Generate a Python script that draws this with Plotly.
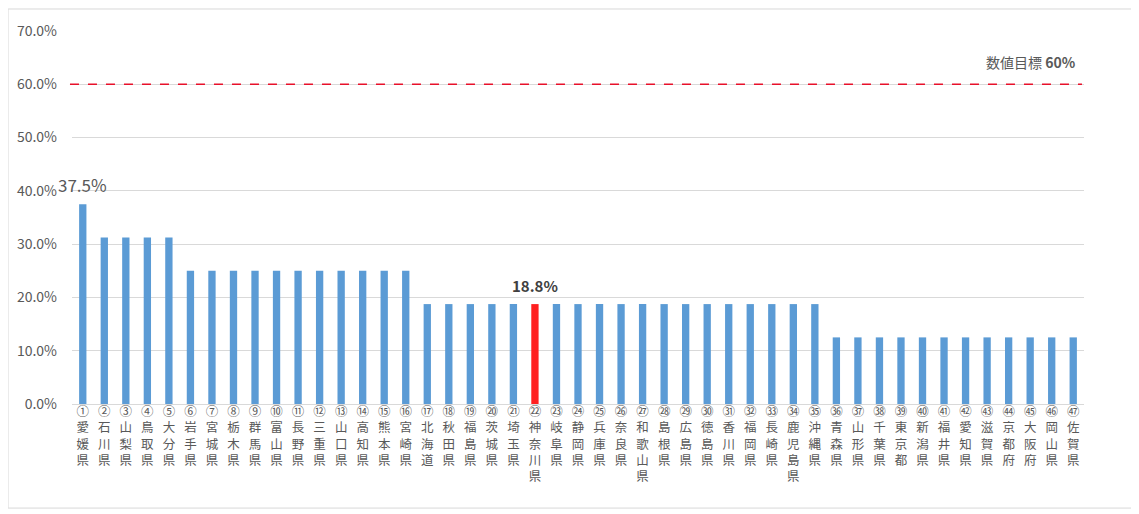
import plotly.graph_objects as go

numbers = ["①","②","③","④","⑤","⑥","⑦","⑧","⑨","⑩","⑪","⑫","⑬","⑭","⑮","⑯","⑰","⑱","⑲","⑳",
           "㉑","㉒","㉓","㉔","㉕","㉖","㉗","㉘","㉙","㉚","㉛","㉜","㉝","㉞","㉟",
           "㊱","㊲","㊳","㊴","㊵","㊶","㊷","㊸","㊹","㊺","㊻","㊼"]
prefectures = ["愛媛県","石川県","山梨県","鳥取県","大分県","岩手県","宮城県","栃木県","群馬県","富山県",
               "長野県","三重県","山口県","高知県","熊本県","宮崎県","北海道","秋田県","福島県","茨城県",
               "埼玉県","神奈川県","岐阜県","静岡県","兵庫県","奈良県","和歌山県","島根県","広島県","徳島県",
               "香川県","福岡県","長崎県","鹿児島県","沖縄県","青森県","山形県","千葉県","東京都","新潟県",
               "福井県","愛知県","滋賀県","京都府","大阪府","岡山県","佐賀県"]
values = [37.5, 31.25, 31.25, 31.25, 31.25,
          25, 25, 25, 25, 25, 25, 25, 25, 25, 25, 25,
          18.75, 18.75, 18.75, 18.75, 18.75, 18.75, 18.75, 18.75, 18.75, 18.75,
          18.75, 18.75, 18.75, 18.75, 18.75, 18.75, 18.75, 18.75, 18.75,
          12.5, 12.5, 12.5, 12.5, 12.5, 12.5, 12.5, 12.5, 12.5, 12.5, 12.5, 12.5]
target = 60
highlight = "神奈川県"

cats = list(range(len(prefectures)))
ticktext = [n + "<br>" + "<br>".join(list(p)) for n, p in zip(numbers, prefectures)]
colors = ["#FF2020" if p == highlight else "#5B9BD5" for p in prefectures]

font_family = "Noto Sans CJK JP, Noto Sans, sans-serif"

fig = go.Figure()
fig.add_trace(go.Bar(x=cats, y=values, marker=dict(color=colors, line=dict(width=0)),
                     hoverinfo="skip"))

fig.add_shape(type="line", xref="paper", x0=-0.002, x1=0.998, yref="y", y0=target, y1=target,
              line=dict(color="#E8102A", width=1.6, dash="dash"))

fig.add_annotation(x=0, y=values[0], text="37.5%", showarrow=False, yshift=20,
                   font=dict(family=font_family, size=17, color="#595959"))
hi = prefectures.index(highlight)
fig.add_annotation(x=hi, y=values[hi], text="<b>18.8%</b>", showarrow=False, yshift=19,
                   font=dict(family=font_family, size=15, color="#404040"))
fig.add_annotation(x=0.994, xref="paper", xanchor="right", y=target, yshift=22,
                   text="数値目標 <b>60%</b>", showarrow=False,
                   font=dict(family=font_family, size=14, color="#595959"))

# outer frame
fig.add_shape(type="rect", xref="paper", yref="paper", x0=-0.0632, x1=1.048, y0=-0.279, y1=1.059,
              line=dict(color="#D9D9D9", width=1), fillcolor="rgba(0,0,0,0)", layer="below")

fig.update_layout(
    width=1139, height=514,
    margin=dict(l=64, r=63, t=23, b=118),
    paper_bgcolor="white", plot_bgcolor="white",
    bargap=0.66, showlegend=False,
    font=dict(family=font_family, color="#595959"),
    xaxis=dict(tickmode="array", tickvals=cats, ticktext=ticktext, tickangle=0,
               range=[-0.5, len(cats) - 0.5], showgrid=False, zeroline=False,
               showline=True, linecolor="#D9D9D9", linewidth=1, ticks="",
               tickfont=dict(size=12.5, color="#595959", family=font_family),
               ticklabelstandoff=-4, automargin=False),
    yaxis=dict(range=[0, 70], dtick=10, tickformat=".1f", ticksuffix="%",
               showgrid=True, gridcolor="#D9D9D9", gridwidth=1, zeroline=False,
               tickfont=dict(size=14, color="#595959", family=font_family),
               ticks="", ticklabelstandoff=14, automargin=False),
)

fig.write_html("out.html")
